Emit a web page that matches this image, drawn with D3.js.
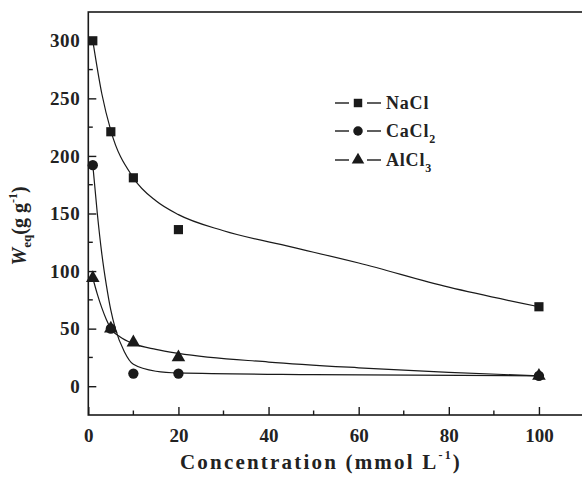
<!DOCTYPE html>
<html><head><meta charset="utf-8">
<script src="https://cdn.jsdelivr.net/npm/d3@7/dist/d3.min.js"></script>
<style>
html,body{margin:0;padding:0;background:#fff;}
svg{display:block;}
text{font-family:"Liberation Serif","Times New Roman",serif;font-weight:bold;fill:#222;}
</style></head>
<body>
<svg id="chart" width="582" height="477"></svg>
<script>
// measured data points
const concentrations = [1, 5, 10, 20, 100];
const naclValues = [300, 221, 181, 136, 69];
const cacl2Values = [192, 50, 11, 11, 9];
const alcl3Values = [94, 50, 38, 25, 9];

// fitted curves
const naclFitX = [1, 3, 5, 10, 15, 20, 30, 45, 60, 80, 100];
const naclFitY = [300, 254, 222, 181, 161, 149, 135, 121, 107, 86, 69];
const cacl2FitX = [1, 2, 3, 4, 5, 6, 8, 10, 15, 20, 50, 100];
const cacl2FitY = [192, 150, 115, 88, 66, 50, 30, 19, 13, 11.5, 10, 9];
const alcl3FitX = [1, 2, 3, 4, 5, 7, 10, 15, 20, 40, 60, 80, 100];
const alcl3FitY = [94, 80, 68, 58, 50, 43, 37, 32, 28.5, 21, 16, 12, 9];

const xTicks = [0, 20, 40, 60, 80, 100];
const xMinorTicks = [10, 30, 50, 70, 90];
const yTicks = [0, 50, 100, 150, 200, 250, 300];
const yMinorTicks = [25, 75, 125, 175, 225, 275];
const seriesNames = ["NaCl", "CaCl", "AlCl"];
const seriesSubs = ["", "2", "3"];

(function () {
const svg = d3.select("#chart");
const pLeft = 88.3, pTop = 12, pBottom = 415, pRight = 584;
const x = d3.scaleLinear().domain([0, 110]).range([pLeft, pRight]);
const y = d3.scaleLinear().domain([-25, 325]).range([pBottom, pTop]);
const ink = "#1a1a1a";

// frame
svg.append("rect").attr("x", pLeft).attr("y", pTop).attr("width", pRight - pLeft).attr("height", pBottom - pTop)
  .attr("fill", "none").attr("stroke", ink).attr("stroke-width", 1.6);

// axes
const xAxis = d3.axisBottom(x).tickValues(xTicks).tickSize(-8).tickPadding(14).tickFormat(d3.format("d"));
const gx = svg.append("g").attr("transform", `translate(0,${pBottom})`).call(xAxis);
const yAxis = d3.axisLeft(y).tickValues(yTicks).tickSize(-8).tickPadding(8).tickFormat(d3.format("d"));
const gy = svg.append("g").attr("transform", `translate(${pLeft},0)`).call(yAxis);
[gx, gy].forEach(g => {
  g.select(".domain").remove();
  g.selectAll("line").attr("stroke", ink).attr("stroke-width", 1.4);
  g.selectAll("text").attr("font-size", 19).attr("font-family", "Liberation Serif").attr("font-weight", "bold").attr("fill", "#222");
});
gy.selectAll("text").attr("letter-spacing", 0.6);

svg.append("g").selectAll("line").data(xMinorTicks).join("line")
  .attr("x1", d => x(d)).attr("x2", d => x(d)).attr("y1", pBottom).attr("y2", pBottom - 4.5)
  .attr("stroke", ink).attr("stroke-width", 1.4);
svg.append("g").selectAll("line").data(yMinorTicks).join("line")
  .attr("y1", d => y(d)).attr("y2", d => y(d)).attr("x1", pLeft).attr("x2", pLeft + 4.5)
  .attr("stroke", ink).attr("stroke-width", 1.4);

// curves
const line = d3.line().x(d => x(d[0])).y(d => y(d[1])).curve(d3.curveMonotoneX);
const fits = [
  d3.zip(naclFitX, naclFitY),
  d3.zip(cacl2FitX, cacl2FitY),
  d3.zip(alcl3FitX, alcl3FitY)
];
svg.append("g").selectAll("path").data(fits).join("path")
  .attr("d", line).attr("fill", "none").attr("stroke", ink).attr("stroke-width", 1.2);

// markers
const symbols = [d3.symbolSquare, d3.symbolCircle, d3.symbolTriangle];
const symSizes = [84, 84, 80];
const values = [naclValues, cacl2Values, alcl3Values];
values.forEach((vals, i) => {
  svg.append("g").selectAll("path").data(d3.zip(concentrations, vals)).join("path")
    .attr("transform", d => `translate(${x(d[0])},${y(d[1])})`)
    .attr("d", d3.symbol().type(symbols[i]).size(symSizes[i])).attr("fill", ink);
});

// legend
const legY = [103, 131, 160];
seriesNames.forEach((name, i) => {
  const g = svg.append("g").attr("transform", `translate(0,${legY[i]})`);
  g.append("line").attr("x1", 335).attr("x2", 349).attr("y1", 0).attr("y2", 0).attr("stroke", ink).attr("stroke-width", 1.4);
  g.append("line").attr("x1", 367).attr("x2", 381).attr("y1", 0).attr("y2", 0).attr("stroke", ink).attr("stroke-width", 1.4);
  g.append("path").attr("transform", "translate(358,0)").attr("d", d3.symbol().type(symbols[i]).size(symSizes[i] * 0.85)).attr("fill", ink);
  const t = g.append("text").attr("x", 386).attr("y", 6).attr("font-size", 18).attr("letter-spacing", 0.8);
  t.append("tspan").text(name);
  if (seriesSubs[i]) t.append("tspan").attr("font-size", 12).attr("dy", 6).text(seriesSubs[i]);
});

// x title
const xt = svg.append("text").attr("x", 321).attr("y", 469).attr("text-anchor", "middle")
  .attr("font-size", 21).attr("letter-spacing", 2.2);
xt.append("tspan").text("Concentration (mmol L");
xt.append("tspan").attr("font-size", 12).attr("dy", -10).text("-1");
xt.append("tspan").attr("dy", 10).text(")");

// y title
const yt = svg.append("text").attr("transform", "translate(26,226) rotate(-90)").attr("text-anchor", "middle")
  .attr("font-size", 20);
yt.append("tspan").attr("font-style", "italic").text("W");
yt.append("tspan").attr("font-size", 13).attr("dy", 5).text("eq");
yt.append("tspan").attr("dy", -5).text("(g g");
yt.append("tspan").attr("font-size", 12).attr("dy", -9).text("-1");
yt.append("tspan").attr("dy", 9).text(")");
})();
</script>
</body></html>
